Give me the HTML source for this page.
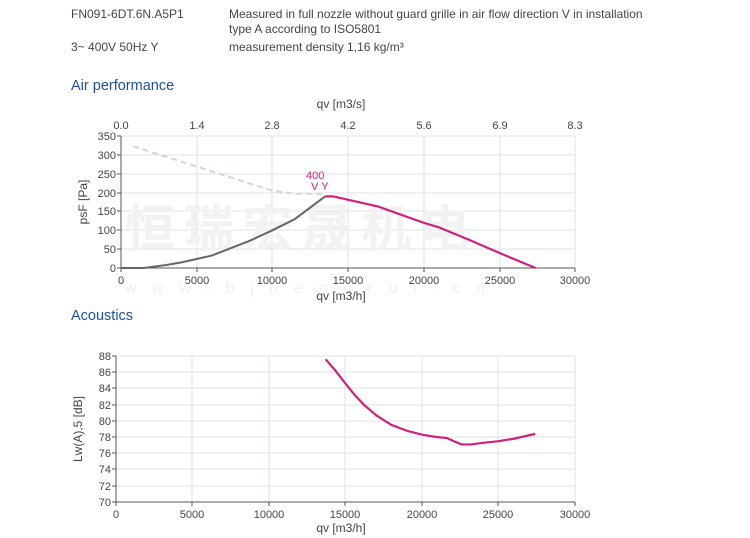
<!DOCTYPE html>
<html><head><meta charset="utf-8"><style>
body{margin:0;background:#fff;width:750px;height:538px;overflow:hidden;font-family:"Liberation Sans",sans-serif}
svg{position:absolute;left:0;top:0}
</style></head><body>
<svg width="750" height="538" viewBox="0 0 750 538" font-family="Liberation Sans, sans-serif">
<g fill="#444" font-size="12">
<text x="71" y="18">FN091-6DT.6N.A5P1</text>
<text x="229" y="18">Measured in full nozzle without guard grille in air flow direction V in installation</text>
<text x="229" y="33">type A according to ISO5801</text>
<text x="71" y="51">3~ 400V 50Hz Y</text>
<text x="229" y="51">measurement density 1,16 kg/m³</text>
</g>
<text x="71" y="90" font-size="14.5" fill="#1f4fa0">Air performance</text>
<text x="71" y="320" font-size="14.5" fill="#1f4fa0">Acoustics</text>

<!-- chart 1 -->
<g stroke="#dde3ea" stroke-width="1">
<path d="M121 136H575M121 155H575M121 174H575M121 193H575M121 211H575M121 230H575M121 249H575"/>
<path d="M197 136V268M272 136V268M348 136V268M424 136V268M500 136V268M575 136V268"/>
</g>
<text x="125" y="246" font-size="50" fill="#f2f2f2" font-weight="bold" font-family="Noto Sans CJK SC, sans-serif" textLength="345" lengthAdjust="spacing">恒瑞宏晟机电</text>
<text x="125" y="293" font-size="16" fill="#f0f0f0" textLength="360" lengthAdjust="spacing">www.bjhengrui.cn</text>
<path d="M121 136V268H575" stroke="#555" fill="none"/>
<g stroke="#555"><path d="M117 136H121M117 155H121M117 174H121M117 193H121M117 211H121M117 230H121M117 249H121M117 268H121M121 268V272M197 268V272M272 268V272M348 268V272M424 268V272M500 268V272M575 268V272"/></g>
<g transform="translate(121,268) scale(0.01513,-0.3771)" fill="none">
<path d="M800 323L10000 205L11500 197L13500 197" stroke="#ccd6e3" stroke-width="2" stroke-dasharray="6 4" vector-effect="non-scaling-stroke"/>
<path d="M0 0L1500 0L3000 8L4000 15L6000 33L8500 72L10000 100L11500 130L13500 190" stroke="#666" stroke-width="2" vector-effect="non-scaling-stroke"/>
<path d="M13500 190L14000 190L17000 163L20000 120L21000 108L23000 75L25000 40L27400 0" stroke="#d0207f" stroke-width="2.2" vector-effect="non-scaling-stroke"/>
</g>
<text x="306" y="179" font-size="11" fill="#d0207f">400</text>
<text x="311" y="190" font-size="11" fill="#d0207f">V Y</text>
<g font-size="11" fill="#444" text-anchor="end">
<text x="116" y="140">350</text><text x="116" y="159">300</text><text x="116" y="178">250</text><text x="116" y="197">200</text><text x="116" y="215">150</text><text x="116" y="234">100</text><text x="116" y="253">50</text><text x="116" y="272">0</text>
</g>
<g font-size="11" fill="#444" text-anchor="middle">
<text x="121" y="284">0</text><text x="197" y="284">5000</text><text x="272" y="284">10000</text><text x="348" y="284">15000</text><text x="424" y="284">20000</text><text x="500" y="284">25000</text><text x="575" y="284">30000</text>
<text x="121" y="129">0.0</text><text x="197" y="129">1.4</text><text x="272" y="129">2.8</text><text x="348" y="129">4.2</text><text x="424" y="129">5.6</text><text x="500" y="129">6.9</text><text x="575" y="129">8.3</text>
<text x="341" y="300" font-size="12">qv [m3/h]</text>
<text x="341" y="108" font-size="12">qv [m3/s]</text>
</g>
<text transform="translate(87,202) rotate(-90)" font-size="12" fill="#444" text-anchor="middle">psF [Pa]</text>

<!-- chart 2 -->
<g stroke="#dde3ea" stroke-width="1">
<path d="M116 356H575M116 372H575M116 388H575M116 405H575M116 421H575M116 437H575M116 453H575M116 469H575M116 486H575"/>
<path d="M192 356V502M269 356V502M345 356V502M422 356V502M498 356V502M575 356V502"/>
</g>
<path d="M116 356V502H575" stroke="#555" fill="none"/>
<g stroke="#555"><path d="M112 356H116M112 372H116M112 388H116M112 405H116M112 421H116M112 437H116M112 453H116M112 469H116M112 486H116M112 502H116M116 502V506M192 502V506M269 502V506M345 502V506M422 502V506M498 502V506M575 502V506"/></g>
<g transform="translate(116,502) scale(0.0153,-8.11)" fill="none">
<path d="M13700 17.6L14300 16.3L15000 14.6L15600 13.2L16200 12L17000 10.7L18000 9.5L19000 8.8L20000 8.3L21000 8L21600 7.9L22200 7.4L22600 7.1L23200 7.1L24000 7.3L25000 7.5L26000 7.8L27400 8.4" stroke="#d0207f" stroke-width="2.2" vector-effect="non-scaling-stroke" stroke-linejoin="round"/>
</g>
<g font-size="11" fill="#444" text-anchor="end">
<text x="111" y="360">88</text><text x="111" y="376">86</text><text x="111" y="392">84</text><text x="111" y="409">82</text><text x="111" y="425">80</text><text x="111" y="441">78</text><text x="111" y="457">76</text><text x="111" y="473">74</text><text x="111" y="490">72</text><text x="111" y="506">70</text>
</g>
<g font-size="11" fill="#444" text-anchor="middle">
<text x="116" y="518">0</text><text x="192" y="518">5000</text><text x="269" y="518">10000</text><text x="345" y="518">15000</text><text x="422" y="518">20000</text><text x="498" y="518">25000</text><text x="575" y="518">30000</text>
<text x="341" y="532" font-size="12">qv [m3/h]</text>
</g>
<text transform="translate(82,429) rotate(-90)" font-size="12" fill="#444" text-anchor="middle">Lw(A),5 [dB]</text>
</svg>
</body></html>
